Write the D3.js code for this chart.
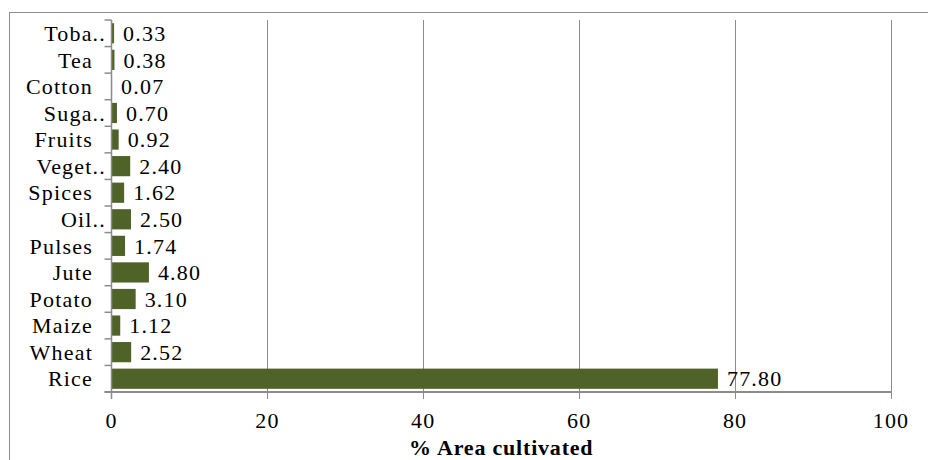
<!DOCTYPE html>
<html>
<head>
<meta charset="utf-8">
<script src="https://cdn.jsdelivr.net/npm/d3@7"></script>
<style>
  html, body { margin: 0; padding: 0; background: #fff; }
  svg { display: block; }
</style>
</head>
<body>
<svg id="chart" width="928" height="460"></svg>
<script>
// Crop categories, bottom to top
const crops = ["Rice", "Wheat", "Maize", "Potato", "Jute", "Pulses", "Oil..", "Spices",
               "Veget..", "Fruits", "Suga..", "Cotton", "Tea", "Toba.."];
// Share of cultivated area (%)
const areaShare = [77.80, 2.52, 1.12, 3.10, 4.80, 1.74, 2.50, 1.62, 2.40, 0.92, 0.70, 0.07, 0.38, 0.33];
const xTicks = [0, 20, 40, 60, 80, 100];
const xTitle = "% Area cultivated";

const FONT = '"Liberation Serif"';

const data = crops.map((c, i) => ({ crop: c, value: areaShare[i] }));

const svg = d3.select("#chart");
const margin = { left: 111.5, right: 37, top: 20, bottom: 68 };
const W = 928, H = 460;

// outer chart frame
svg.append("rect")
  .attr("x", 9.5).attr("y", 12.5)
  .attr("width", 940).attr("height", 470)
  .attr("fill", "none").attr("stroke", "#8c8c8c").attr("stroke-width", 1);

const x = d3.scaleLinear().domain([0, 100]).range([margin.left, W - margin.right]);
const y = d3.scaleBand()
  .domain(crops.slice().reverse())
  .range([margin.top, H - margin.bottom])
  .paddingInner(0.24).paddingOuter(0.12);

const plotTop = margin.top, plotBottom = H - margin.bottom;

// vertical gridlines (extend below axis as tick marks)
svg.append("g").selectAll("line")
  .data(xTicks.filter(t => t > 0))
  .join("line")
  .attr("x1", d => Math.round(x(d)) + 0.5).attr("x2", d => Math.round(x(d)) + 0.5)
  .attr("y1", plotTop).attr("y2", plotBottom + 7)
  .attr("stroke", "#8c8c8c").attr("stroke-width", 1);

// bars
svg.append("g").selectAll("rect")
  .data(data)
  .join("rect")
  .attr("x", x(0))
  .attr("y", d => y(d.crop))
  .attr("width", d => x(d.value) - x(0))
  .attr("height", y.bandwidth())
  .attr("fill", "#4f6228");

// value labels
svg.append("g").selectAll("text")
  .data(data)
  .join("text")
  .attr("x", d => x(d.value) + 9)
  .attr("y", d => y(d.crop) + y.bandwidth() / 2)
  .attr("dy", "0.35em")
  .style("font-family", FONT)
  .style("font-size", "22px")
  .style("letter-spacing", "1.2px")
  .text(d => d.value.toFixed(2));

// left axis line with ticks at category boundaries
const step = (plotBottom - plotTop) / crops.length;
svg.append("line")
  .attr("x1", x(0)).attr("x2", x(0))
  .attr("y1", plotTop).attr("y2", plotBottom + 7)
  .attr("stroke", "#8c8c8c").attr("stroke-width", 1.5);
svg.append("g").selectAll("line")
  .data(d3.range(crops.length + 1))
  .join("line")
  .attr("x1", x(0) - 7).attr("x2", x(0))
  .attr("y1", i => plotTop + i * step).attr("y2", i => plotTop + i * step)
  .attr("stroke", "#8c8c8c").attr("stroke-width", 1.5);

// category labels
svg.append("g").selectAll("text")
  .data(crops)
  .join("text")
  .attr("x", d => d.endsWith("..") ? 106 : 93)
  .attr("y", d => y(d) + y.bandwidth() / 2)
  .attr("dy", "0.35em")
  .attr("text-anchor", "end")
  .style("font-family", FONT)
  .style("font-size", "22px")
  .style("letter-spacing", "1.2px")
  .text(d => d);

// bottom axis line
svg.append("line")
  .attr("x1", x(0) - 7).attr("x2", x(100))
  .attr("y1", plotBottom).attr("y2", plotBottom)
  .attr("stroke", "#8c8c8c").attr("stroke-width", 2);

// x tick labels
svg.append("g").selectAll("text")
  .data(xTicks)
  .join("text")
  .attr("x", d => x(d))
  .attr("y", 428)
  .attr("text-anchor", "middle")
  .style("font-family", FONT)
  .style("font-size", "22px")
  .style("letter-spacing", "1.2px")
  .text(d => d);

// axis title
svg.append("text")
  .attr("x", (x(0) + x(100)) / 2)
  .attr("y", 455)
  .attr("text-anchor", "middle")
  .style("font-family", FONT)
  .style("font-size", "22px")
  .style("font-weight", "bold")
  .style("letter-spacing", "0.8px")
  .text(xTitle);
</script>
</body>
</html>
